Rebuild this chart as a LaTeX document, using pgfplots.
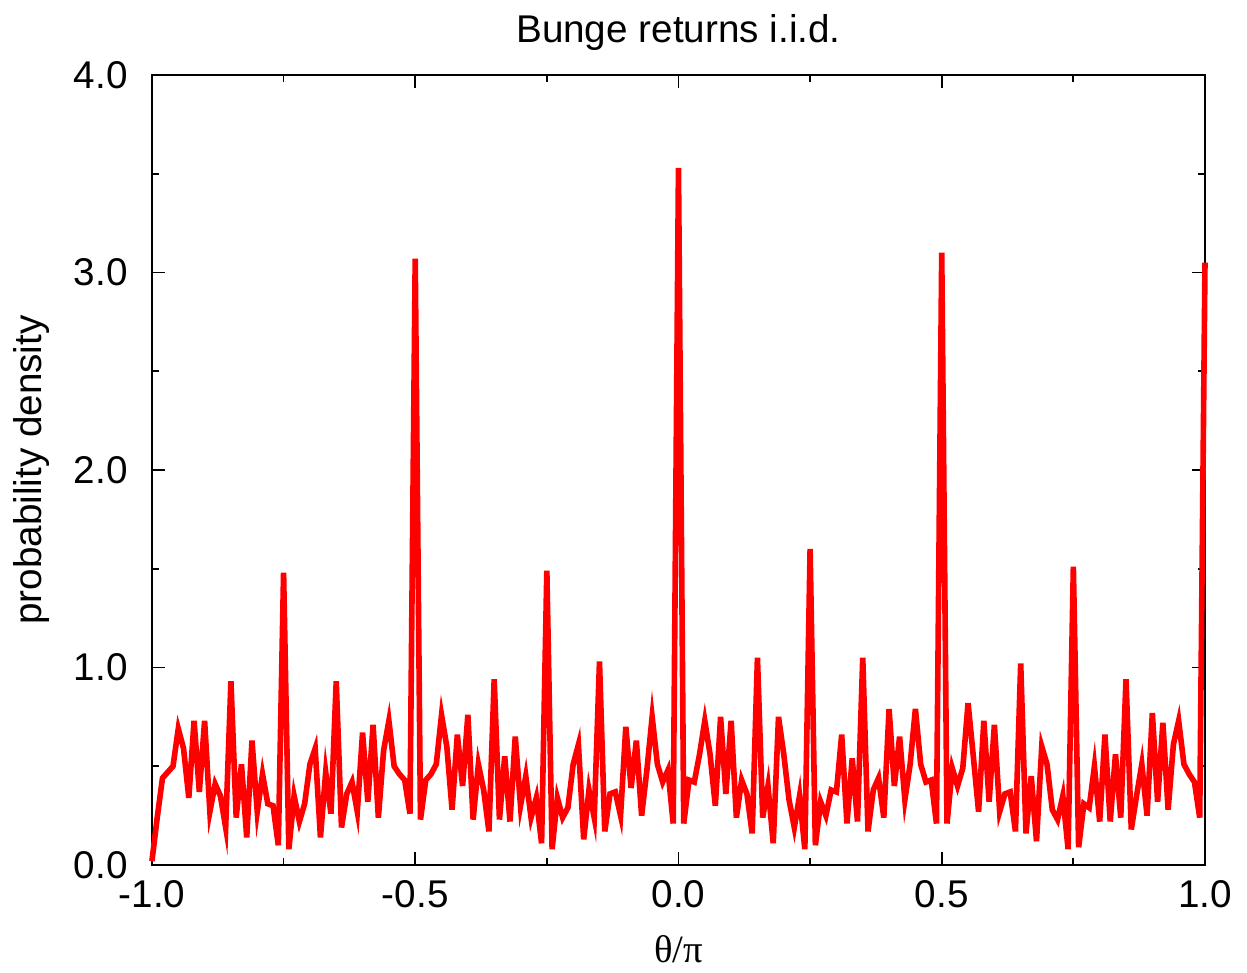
\documentclass[border=0pt]{standalone}
\usepackage{fontspec}
\setmainfont{Liberation Sans}
\newfontfamily\symfont{Liberation Serif}
\usepackage{pgfplots}
\pgfplotsset{compat=1.18}
\usepackage{pgfplotstable}

% density of return angle, step 0.01 in theta/pi
\pgfplotstableread{
x y
-1.00 0.02
-0.99 0.24
-0.98 0.44
-0.97 0.47
-0.96 0.50
-0.95 0.69
-0.94 0.59
-0.93 0.34
-0.92 0.73
-0.91 0.37
-0.90 0.73
-0.89 0.27
-0.88 0.41
-0.87 0.35
-0.86 0.19
-0.85 0.93
-0.84 0.24
-0.83 0.51
-0.82 0.14
-0.81 0.63
-0.80 0.27
-0.79 0.46
-0.78 0.31
-0.77 0.30
-0.76 0.10
-0.75 1.48
-0.74 0.08
-0.73 0.35
-0.72 0.22
-0.71 0.31
-0.70 0.51
-0.69 0.59
-0.68 0.14
-0.67 0.47
-0.66 0.26
-0.65 0.93
-0.64 0.19
-0.63 0.36
-0.62 0.42
-0.61 0.27
-0.60 0.67
-0.59 0.32
-0.58 0.71
-0.57 0.24
-0.56 0.58
-0.55 0.73
-0.54 0.50
-0.53 0.46
-0.52 0.43
-0.51 0.26
-0.50 3.07
-0.49 0.23
-0.48 0.43
-0.47 0.46
-0.46 0.51
-0.45 0.76
-0.44 0.60
-0.43 0.28
-0.42 0.66
-0.41 0.40
-0.40 0.76
-0.39 0.23
-0.38 0.51
-0.37 0.38
-0.36 0.17
-0.35 0.94
-0.34 0.23
-0.33 0.55
-0.32 0.22
-0.31 0.65
-0.30 0.30
-0.29 0.45
-0.28 0.24
-0.27 0.34
-0.26 0.11
-0.25 1.49
-0.24 0.08
-0.23 0.34
-0.22 0.24
-0.21 0.29
-0.20 0.51
-0.19 0.61
-0.18 0.13
-0.17 0.38
-0.16 0.24
-0.15 1.03
-0.14 0.17
-0.13 0.36
-0.12 0.37
-0.11 0.25
-0.10 0.70
-0.09 0.39
-0.08 0.63
-0.07 0.25
-0.06 0.48
-0.05 0.75
-0.04 0.51
-0.03 0.42
-0.02 0.48
-0.01 0.21
0.00 3.53
0.01 0.21
0.02 0.43
0.03 0.42
0.04 0.56
0.05 0.73
0.06 0.56
0.07 0.30
0.08 0.75
0.09 0.36
0.10 0.73
0.11 0.24
0.12 0.43
0.13 0.36
0.14 0.16
0.15 1.05
0.16 0.24
0.17 0.40
0.18 0.11
0.19 0.75
0.20 0.56
0.21 0.33
0.22 0.19
0.23 0.35
0.24 0.08
0.25 1.60
0.26 0.10
0.27 0.32
0.28 0.25
0.29 0.38
0.30 0.37
0.31 0.66
0.32 0.21
0.33 0.54
0.34 0.22
0.35 1.05
0.36 0.17
0.37 0.38
0.38 0.44
0.39 0.24
0.40 0.79
0.41 0.40
0.42 0.65
0.43 0.33
0.44 0.51
0.45 0.79
0.46 0.51
0.47 0.42
0.48 0.43
0.49 0.21
0.50 3.10
0.51 0.21
0.52 0.49
0.53 0.40
0.54 0.49
0.55 0.82
0.56 0.55
0.57 0.27
0.58 0.73
0.59 0.32
0.60 0.71
0.61 0.27
0.62 0.36
0.63 0.37
0.64 0.17
0.65 1.02
0.66 0.16
0.67 0.45
0.68 0.12
0.69 0.60
0.70 0.51
0.71 0.28
0.72 0.23
0.73 0.35
0.74 0.08
0.75 1.51
0.76 0.09
0.77 0.31
0.78 0.29
0.79 0.50
0.80 0.22
0.81 0.66
0.82 0.22
0.83 0.56
0.84 0.24
0.85 0.94
0.86 0.18
0.87 0.35
0.88 0.51
0.89 0.25
0.90 0.77
0.91 0.32
0.92 0.72
0.93 0.28
0.94 0.61
0.95 0.73
0.96 0.51
0.97 0.46
0.98 0.42
0.99 0.24
1.00 3.05
}\density

\begin{document}
\begin{tikzpicture}[font=\fontsize{11}{13}\selectfont]
\begin{axis}[
    scale only axis,
    width=105.3mm, height=79mm,
    xmin=-1, xmax=1, ymin=0, ymax=4,
    xtick={-1,-0.5,0,0.5,1},
    ytick={0,1,2,3,4},
    minor tick num=1,
    major tick length=1.3mm,
    minor tick length=0.7mm,
    tick style={black, line width=0.5pt},
    axis line style={line width=0.6pt},
    /pgf/number format/.cd, fixed, fixed zerofill, precision=1, assume math mode=true,
    /pgfplots/.cd,
    xticklabel style={yshift=-0.3mm},
    yticklabel style={xshift=-1.2mm},
    xlabel={{\symfont θ/π}},
    xlabel style={at={(axis description cs:0.5,-0.1228)}, anchor=base, inner sep=0pt},
    ylabel={probability density},
    ylabel style={at={(axis description cs:-0.114,0.5)}, anchor=center, inner sep=0pt},
    clip=false,
]
\addplot[red, line width=1.6pt] table[x=x, y=y] {\density};
\node[anchor=base, inner sep=0pt] at (rel axis cs:0.5,1.0405) {Bunge returns i.i.d.};
\coordinate (bbA) at (rel axis cs:-0.1443,-0.1367);
\coordinate (bbB) at (rel axis cs:1.0399,1.0949);
\end{axis}
\pgfresetboundingbox
\path (bbA) rectangle (bbB);
\end{tikzpicture}
\end{document}
